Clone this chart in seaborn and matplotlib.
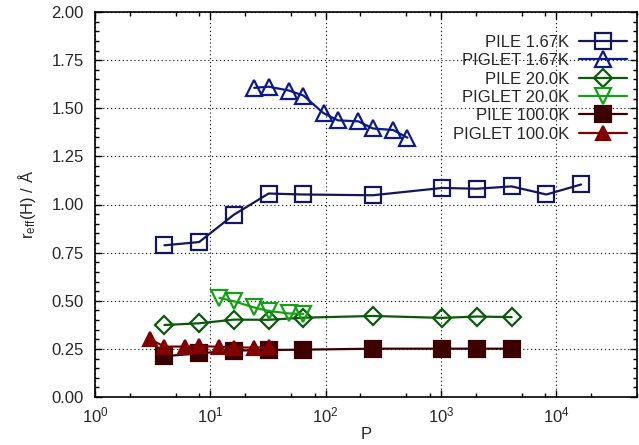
import matplotlib
matplotlib.use("Agg")
import matplotlib.pyplot as plt
import matplotlib.ticker as mticker
import seaborn as sns
import pandas as pd

# Data
P_pile_167 = [4, 8, 16, 32, 64, 256, 1024, 2048, 4096, 8192, 16384]
r_pile_167 = [0.788, 0.805, 0.947, 1.057, 1.052, 1.048, 1.086, 1.082, 1.094, 1.052, 1.104]

P_piglet_167 = [24, 32, 48, 64, 96, 128, 192, 256, 384, 512]
r_piglet_167 = [1.606, 1.612, 1.592, 1.566, 1.474, 1.437, 1.432, 1.395, 1.387, 1.347]

P_pile_20 = [4, 8, 16, 32, 64, 256, 1024, 2048, 4096]
r_pile_20 = [0.374, 0.383, 0.402, 0.401, 0.412, 0.421, 0.411, 0.418, 0.415]

P_piglet_20 = [12, 16, 24, 32, 48, 64]
r_piglet_20 = [0.515, 0.497, 0.465, 0.447, 0.434, 0.432]

P_pile_100 = [4, 8, 16, 32, 64, 256, 1024, 2048, 4096]
r_pile_100 = [0.212, 0.227, 0.241, 0.244, 0.246, 0.251, 0.251, 0.251, 0.251]

P_piglet_100 = [3, 4, 6, 8, 12, 16, 24, 32]
r_piglet_100 = [0.300, 0.262, 0.262, 0.264, 0.261, 0.257, 0.257, 0.258]

labels = ["PILE 1.67K", "PIGLET 1.67K", "PILE 20.0K", "PIGLET 20.0K", "PILE 100.0K", "PIGLET 100.0K"]

sns.set_theme(style="white")
plt.rcParams['font.family'] = ['Liberation Sans', 'DejaVu Sans']
plt.rcParams['mathtext.fontset'] = 'custom'
plt.rcParams['mathtext.rm'] = 'Liberation Sans'
plt.rcParams['mathtext.it'] = 'Liberation Sans'

FS = 12

fig = plt.figure(figsize=(6.39, 4.45), dpi=100)
ax = fig.add_axes([95/639, 1-397/445, (637-95)/639, (397-12)/445])

series = [
    (P_pile_167, r_pile_167, '#16165c', 's', 'none', 12),
    (P_piglet_167, r_piglet_167, '#0c1a8c', '^', 'none', 11),
    (P_pile_20, r_pile_20, '#0a5a0a', 'D', 'none', 9),
    (P_piglet_20, r_piglet_20, '#14a014', 'v', 'none', 11),
    (P_pile_100, r_pile_100, '#3c0000', 's', '#3c0000', 12),
    (P_piglet_100, r_piglet_100, '#820000', '^', '#820000', 10),
]

for (xs, ys, col, mk, fc, ms), lab in zip(series, labels):
    df = pd.DataFrame({"P": xs, "r": ys})
    sns.lineplot(data=df, x="P", y="r", ax=ax, color=col, marker=mk,
                 markersize=ms, markerfacecolor=fc, markeredgecolor=col,
                 markeredgewidth=1.6, linewidth=1.6, label=lab, estimator=None,
                 sort=False)

ax.set_xscale('log')
ax.set_xlim(1, 5e4)
ax.set_ylim(0, 2.0)
ax.xaxis.set_major_locator(mticker.LogLocator(base=10, numticks=10))
ax.xaxis.set_minor_locator(mticker.LogLocator(base=10, subs=[2, 5, 8], numticks=20))
ax.xaxis.set_minor_formatter(mticker.NullFormatter())
ax.yaxis.set_major_locator(mticker.MultipleLocator(0.25))
ax.yaxis.set_minor_locator(mticker.MultipleLocator(0.05))
ax.yaxis.set_major_formatter(mticker.FormatStrFormatter('%.2f'))

ax.tick_params(which='both', direction='in', top=True, right=True, bottom=True, left=True,
               labelsize=FS, color='black')
ax.tick_params(axis='y', which='major', pad=8)
ax.tick_params(axis='x', which='major', pad=6)
ax.tick_params(which='major', length=5, width=1)
ax.tick_params(which='minor', length=3, width=1)
ax.grid(True, which='major', linestyle=(0, (1, 2.5)), color='black', linewidth=0.8)
for s in ax.spines.values():
    s.set_color('black')
    s.set_linewidth(1.2)

ax.set_xlabel('P', fontsize=FS, labelpad=1)
ax.set_ylabel('$\\mathregular{r_{eff}}$(H) / Å', fontsize=FS, labelpad=10)

leg = ax.legend(loc='upper right', bbox_to_anchor=(0.9945, 0.958), borderaxespad=0,
                frameon=False, markerfirst=False, fontsize=FS,
                handlelength=2.9, labelspacing=0.2, handletextpad=0.6)

fig.savefig('out.png', dpi=100)
